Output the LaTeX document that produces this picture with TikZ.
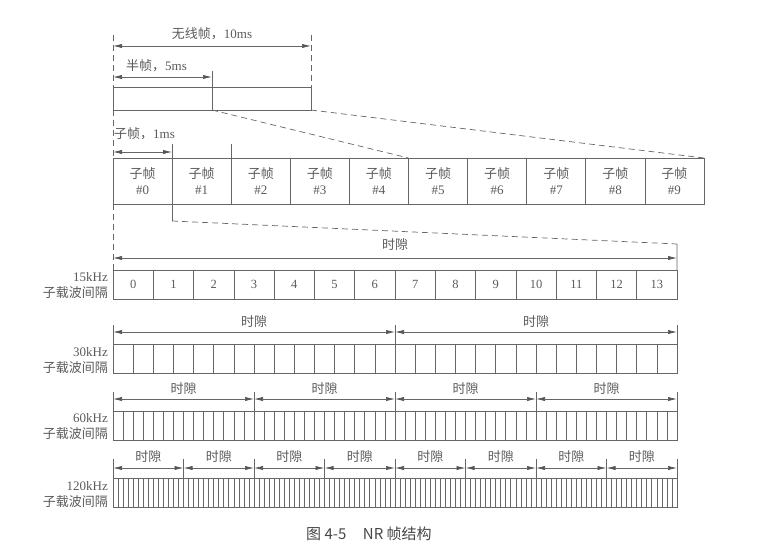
\documentclass[tikz,border=0pt]{standalone}
\usepackage{fontspec}
\setmainfont{Liberation Serif}
\newfontfamily\cjk{Noto Sans CJK SC}
\usetikzlibrary{arrows.meta,calc}
\definecolor{linec}{HTML}{666666}
\definecolor{textc}{HTML}{5A5A5A}
\definecolor{capc}{HTML}{454545}
\definecolor{tipc}{HTML}{555555}
\tikzset{
  ln/.style={draw=linec, line width=0.7pt},
  dsh/.style={draw=linec, line width=0.7pt, dash pattern=on 6pt off 4pt},
  dim/.style={draw=linec, line width=0.7pt, {Latex[length=9pt,width=4.2pt,color=tipc]}-{Latex[length=9pt,width=4.2pt,color=tipc]}},
  txt/.style={text=textc, inner sep=0pt, font=\fontsize{13}{16}\selectfont},
  box/.style={draw=linec, line width=0.7pt, anchor=north west, inner sep=0pt, outer sep=0pt, text=textc},
  hfbox/.style={box, minimum width=99pt, minimum height=23pt},
  sfbox/.style={box, minimum width=59.1pt, minimum height=46pt, align=center, font=\fontsize{13}{16.5}\selectfont},
  slotbox/.style={box, minimum width=#1, minimum height=29pt, font=\fontsize{12.5}{15}\selectfont},
  lab/.style={txt, anchor=east, align=right}
}
\begin{document}
\begin{tikzpicture}[x=1pt,y=-1pt]
\useasboundingbox (0,0) rectangle (767,556);
% ---------- radio frame ----------
\node[hfbox] (hf0) at (113,87) {};
\node[hfbox] (hf1) at (212,87) {};
\coordinate (f0) at (113,35);
\coordinate (f1) at (311,35);
\draw[dsh] (f0) -- (hf0.north west);
\draw[dsh] (f1) -- (hf1.north east);
\draw[ln] (hf0.north east) -- ++(0,-16);
\coordinate (a10l) at (113,46); \coordinate (a10r) at (311,46);
\draw[dim] (a10l) -- (a10r);
\node[txt] (t10) at (212,34) {{\cjk 无线帧，}10ms};
\coordinate (a5l) at (113,77); \coordinate (a5r) at (212,77);
\draw[dim] (a5l) -- (a5r);
\node[txt, anchor=west] (t5) at (126,66) {{\cjk 半帧，}5ms};
% ---------- subframes ----------
\foreach \i in {0,...,9}{
  \node[sfbox] (sf\i) at ({113+59.1*\i},158) {{\cjk 子帧}\\\#\i};
}
\draw[dsh] (hf0.south west) -- (sf0.north west);
\draw[dsh] (hf0.south east) -- (sf4.north east);
\draw[dsh] (hf1.south east) -- (sf9.north east);
\draw[ln] (sf0.north east) -- ++(0,-14);
\draw[ln] (sf1.north east) -- ++(0,-14);
\coordinate (a1l) at (113,152); \coordinate (a1r) at ($(sf0.north east)+(0,-6)$);
\draw[dim] (a1l) -- (a1r);
\node[txt, anchor=west] (t1) at (114,134) {{\cjk 子帧，}1ms};
% ---------- 15 kHz ----------
\foreach \i in {0,...,13}{
  \node[slotbox=40.286pt] (a\i) at ({113+40.286*\i},270) {\i};
}
\coordinate (k1) at ($(sf0.south east)+(0,17)$);
\coordinate (k2) at (677,244);
\draw[ln] (sf0.south east) -- (k1);
\draw[dsh] (k1) -- (k2);
\draw[ln] (k2) -- (a13.north east);
\draw[dsh] (sf0.south west) -- (a0.north west);
\draw[dim] ($(a0.north west)+(0,-12)$) -- ($(a13.north east)+(0,-12)$);
\node[txt] (ts15) at (395,245) {\cjk 时隙};
\node[lab] (l15) at (108,286) {15kHz\\{\cjk 子载波间隔}};
% ---------- 30 kHz ----------
\foreach \i in {0,...,27}{
  \node[slotbox=20.143pt] (b\i) at ({113+20.143*\i},344) {};
}
\foreach \j in {0,1}{
  \pgfmathsetmacro\xl{113+282*\j}
  \pgfmathsetmacro\xr{113+282*(\j+1)}
  \draw[dim] (\xl,332) -- (\xr,332);
  \node[txt] (ts30\j) at ({(\xl+\xr)/2},322) {\cjk 时隙};
}
\foreach \i in {0,14}{ \draw[ln] (b\i.north west) -- ++(0,-19); }
\draw[ln] (b27.north east) -- ++(0,-19);
\node[lab] (l30) at (108,361) {30kHz\\{\cjk 子载波间隔}};
% ---------- 60 kHz ----------
\foreach \i in {0,...,55}{
  \node[slotbox=10.0714pt] (c\i) at ({113+10.0714*\i},411) {};
}
\foreach \j in {0,...,3}{
  \pgfmathsetmacro\xl{113+141*\j}
  \pgfmathsetmacro\xr{113+141*(\j+1)}
  \draw[dim] (\xl,399) -- (\xr,399);
  \node[txt] (ts60\j) at ({(\xl+\xr)/2},389) {\cjk 时隙};
}
\foreach \i in {0,14,28,42}{ \draw[ln] (c\i.north west) -- ++(0,-19); }
\draw[ln] (c55.north east) -- ++(0,-19);
\node[lab] (l60) at (108,427) {60kHz\\{\cjk 子载波间隔}};
% ---------- 120 kHz ----------
\foreach \i in {0,...,111}{
  \node[slotbox=5.0357pt] (d\i) at ({113+5.0357*\i},478) {};
}
\foreach \j in {0,...,7}{
  \pgfmathsetmacro\xl{113+70.5*\j}
  \pgfmathsetmacro\xr{113+70.5*(\j+1)}
  \draw[dim] (\xl,468) -- (\xr,468);
  \node[txt] (ts120\j) at ({(\xl+\xr)/2},457) {\cjk 时隙};
}
\foreach \i in {0,14,28,42,56,70,84,98}{ \draw[ln] (d\i.north west) -- ++(0,-19); }
\draw[ln] (d111.north east) -- ++(0,-19);
\node[lab] (l120) at (108,495) {120kHz\\{\cjk 子载波间隔}};
% ---------- caption ----------
\node[inner sep=0pt, text=capc, font=\cjk\fontsize{15}{18}\selectfont, anchor=west] (cap) at (306,534) {图 4-5\hspace{1.1em}NR 帧结构};
\end{tikzpicture}
\end{document}
